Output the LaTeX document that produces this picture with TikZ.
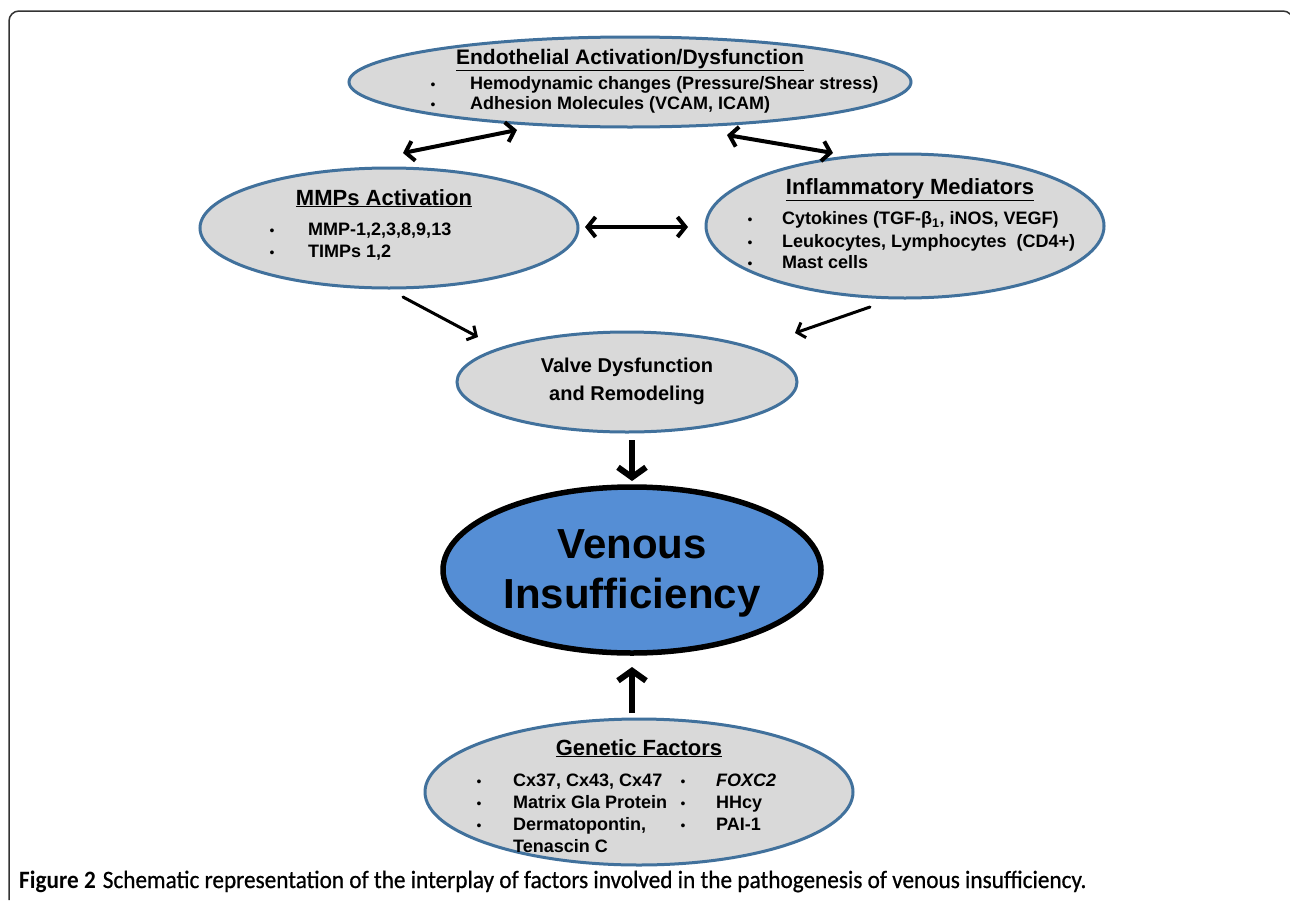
\documentclass[tikz,border=0pt]{standalone}
\usepackage{fontspec}
\setmainfont{Liberation Sans}
\newfontfamily\capfont[FakeStretch=0.93]{Carlito}
\newfontfamily\capfontrest[FakeStretch=0.93,FakeBold=0.7]{Carlito}
\usetikzlibrary{shapes.geometric,arrows.meta,calc}
\definecolor{ellfill}{HTML}{D9D9D9}
\definecolor{ellline}{HTML}{41719C}
\definecolor{venfill}{HTML}{558ED5}
\definecolor{framecol}{HTML}{333333}
\begin{document}
\begin{tikzpicture}[x=1pt,y=-1pt,
  ell/.style={ellipse,draw=ellline,fill=ellfill,line width=3pt,inner sep=0pt,outer sep=0pt},
  ttl/.style={font=\fontsize{22}{26}\selectfont\bfseries,anchor=base,inner sep=0pt},
  itm/.style={font=\fontsize{18}{22}\selectfont\bfseries,anchor=base west,inner sep=0pt},
  bul/.style={font=\fontsize{14}{16}\selectfont,anchor=base,inner sep=0pt},
  dbl/.style={line width=4pt,line cap=round,{Straight Barb[length=8pt,width=20pt]}-{Straight Barb[length=8pt,width=20pt]}},
  sgl/.style={line width=3pt,line cap=round,-{Straight Barb[length=7pt,width=16pt]}},
  big/.style={line width=6pt,-{Straight Barb[length=10pt,width=28pt]}}
]
\useasboundingbox (0,0) rectangle (1290,913);
\fill[white] (0,0) rectangle (1290,913);
% frame
\draw[framecol,line width=1.5pt,rounded corners=10pt] (9,900) -- (9,11) -- (1293,11) -- (1293,913);

% ellipses
\node[ell,minimum width=562pt,minimum height=90pt] (endo) at (630,82) {};
\node[ell,minimum width=378pt,minimum height=120pt] (mmp) at (389,228) {};
\node[ell,minimum width=398pt,minimum height=144pt] (infl) at (905,226) {};
\node[ell,minimum width=340pt,minimum height=100pt] (valve) at (627,382) {};
\node[ellipse,draw=black,fill=venfill,line width=5.5pt,inner sep=0pt,outer sep=0pt,minimum width=378pt,minimum height=166pt] (ven) at (632,570) {};
\node[ell,minimum width=428pt,minimum height=146pt] (gen) at (639,792) {};

% endothelial text
\node[ttl,font=\fontsize{21}{25}\selectfont\bfseries] (endoT) at (630,64.5) {\underline{Endothelial Activation/Dysfunction}};
\node[bul] (eb1) at (433,89.5) {•};
\node[itm] (ei1) at (470,89.5) {Hemodynamic changes (Pressure/Shear stress)};
\node[bul] (eb2) at (433,109.5) {•};
\node[itm] (ei2) at (470,109.5) {Adhesion Molecules (VCAM, ICAM)};

% MMPs text
\node[ttl] (mmpT) at (384,205) {\underline{MMPs Activation}};
\node[bul] (mb1) at (272,235.5) {•};
\node[itm] (mi1) at (308,235.5) {MMP-1,2,3,8,9,13};
\node[bul] (mb2) at (272,257.5) {•};
\node[itm] (mi2) at (308,257.5) {TIMPs 1,2};

% Inflammatory text
\node[ttl] (inflT) at (910,194) {\underline{Inflammatory Mediators}};
\node[bul] (ib1) at (750,224.5) {•};
\node[itm] (ii1) at (782,224.5) {Cytokines (TGF-β\textsubscript{1}, iNOS, VEGF)};
\node[bul] (ib2) at (750,247.5) {•};
\node[itm] (ii2) at (782,247.5) {Leukocytes, Lymphocytes\ \ (CD4+)};
\node[bul] (ib3) at (750,268.5) {•};
\node[itm] (ii3) at (782,268.5) {Mast cells};

% Valve text
\node[font=\fontsize{20}{28}\selectfont\bfseries,align=center,inner sep=0pt] (valveT) at (627,381) {Valve Dysfunction\\and Remodeling};

% Venous text
\node[font=\fontsize{42}{50}\selectfont\bfseries,align=center,inner sep=0pt] (venT) at (632,573) {Venous\\Insufficiency};

% Genetic text
\node[ttl] (genT) at (639,755) {\underline{Genetic Factors}};
\node[bul] (gb1) at (479,786.5) {•};
\node[itm] (gi1) at (513,786.5) {Cx37, Cx43, Cx47};
\node[bul] (gb2) at (479,808.5) {•};
\node[itm] (gi2) at (513,808.5) {Matrix Gla Protein};
\node[bul] (gb3) at (479,830.5) {•};
\node[itm] (gi3) at (513,830.5) {Dermatopontin,};
\node[itm] (gi4) at (513,852) {Tenascin C};
\node[bul] (gb4) at (683,786.5) {•};
\node[itm] (gi5) at (716,786.5) {\itshape FOXC2};
\node[bul] (gb5) at (683,808.5) {•};
\node[itm] (gi6) at (716,808.5) {HHcy};
\node[bul] (gb6) at (683,830.5) {•};
\node[itm] (gi7) at (716,830.5) {PAI-1};

% connectors
\draw[dbl] ($(mmp.north)+(14,-15)$) -- ($(endo.south)+(-113,3)$);
\draw[dbl] ($(endo.south)+(97,8)$) -- ($(infl.north)+(-72,-1)$);
\draw[dbl] ($(mmp.east)+(7,-1)$) -- ($(infl.west)+(-18,1)$);
\draw[sgl] ($(mmp.south)+(14,9)$) -- ($(valve.north)+(-149,5)$);
\draw[sgl] ($(infl.south)+(-35,9)$) -- ($(valve.north)+(168,1)$);
\draw[big] ($(valve.south)+(5,8)$) -- ($(ven.north)+(0,-6)$);
\draw[big] ($(gen.north)+(-7,-6)$) -- ($(ven.south)+(0,14)$);

% caption
\node[anchor=base west,inner sep=0pt,font=\fontsize{25}{29}\selectfont] (cap) at (19,888) {{\capfont\bfseries Figure 2} {\capfontrest Schematic representation of the interplay of factors involved in the pathogenesis of venous insufficiency.}};
\end{tikzpicture}
\end{document}
